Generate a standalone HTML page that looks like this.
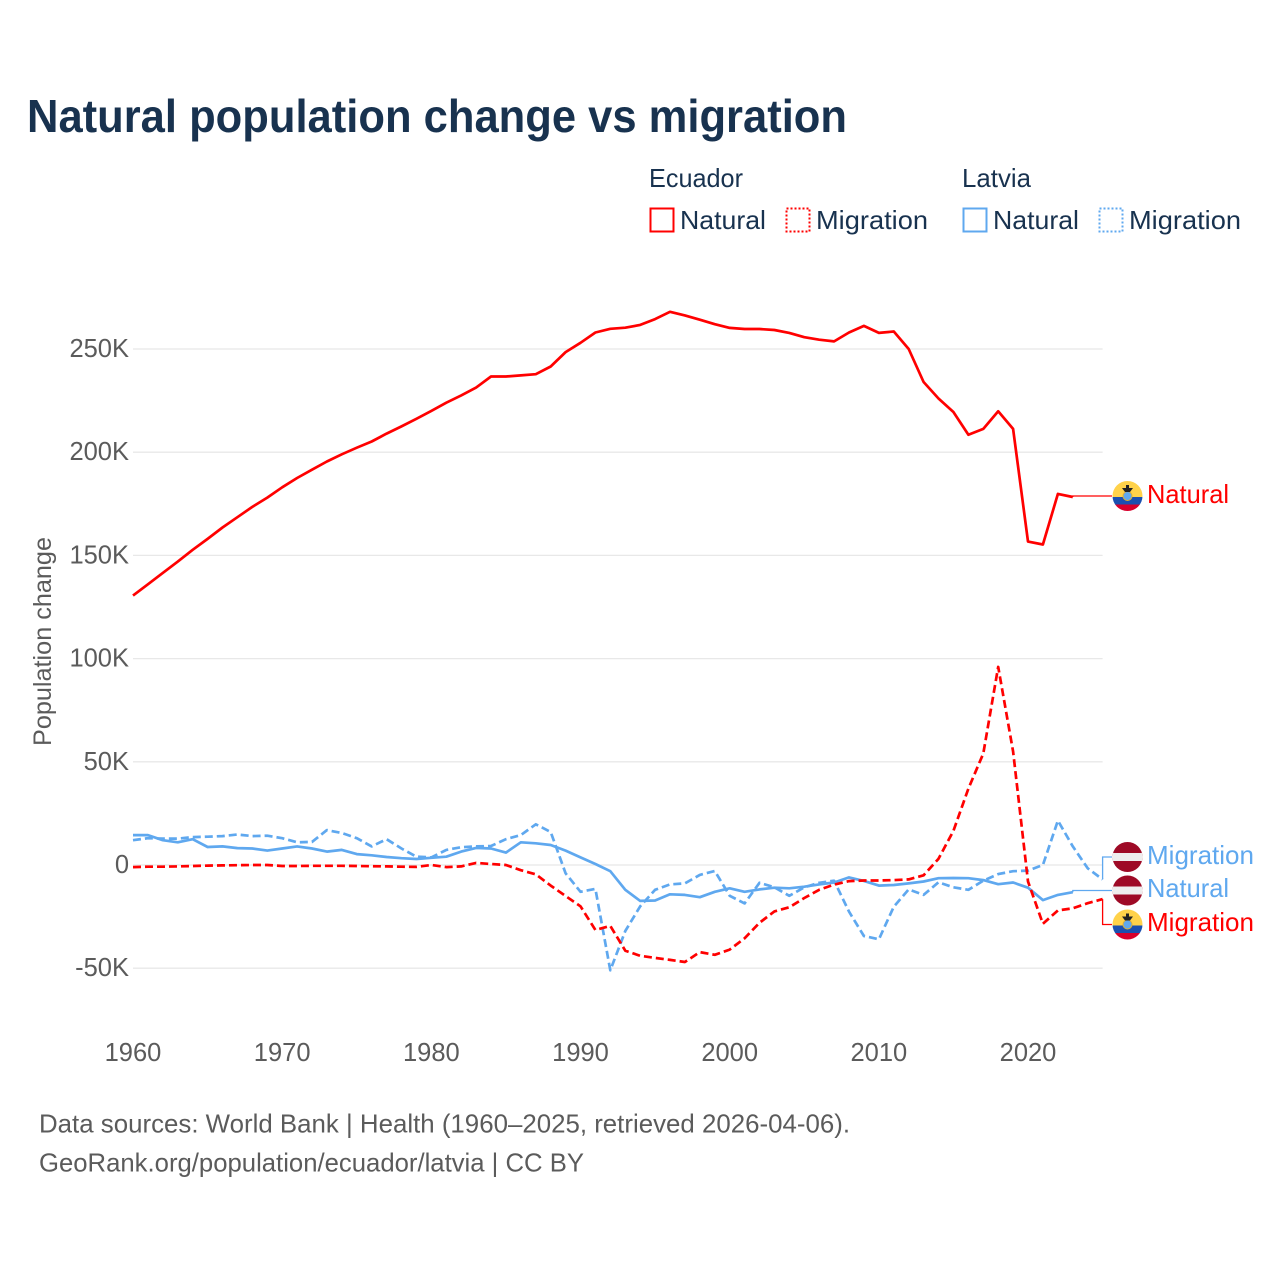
<!DOCTYPE html>
<html lang="en">
<head>
<meta charset="utf-8">
<title>Natural population change vs migration</title>
<style>
html,body{margin:0;padding:0;background:#fff;}
svg{display:block;font-family:"Liberation Sans",sans-serif;}
.legend{fill:#18324f;font-size:26px;}
.tick{fill:#5b5b5b;font-size:25.5px;}
.foot{fill:#5b5b5b;font-size:26px;}
.end{font-size:26px;}
</style>
</head>
<body>
<svg id="chart" xmlns="http://www.w3.org/2000/svg" width="1280" height="1280" viewBox="0 0 1280 1280">
  <rect width="1280" height="1280" fill="#fff"/>
  <text x="27" y="132" font-size="46" font-weight="700" fill="#18324f" textLength="820" lengthAdjust="spacingAndGlyphs">Natural population change vs migration</text>

  <g>
    <text class="legend" x="649" y="187" textLength="94" lengthAdjust="spacingAndGlyphs">Ecuador</text>
    <text class="legend" x="962" y="187" textLength="69" lengthAdjust="spacingAndGlyphs">Latvia</text>
    <rect x="650.5" y="208.5" width="23" height="23" fill="none" stroke="#ff0000" stroke-width="2"/>
    <text class="legend" x="680" y="229" textLength="86" lengthAdjust="spacingAndGlyphs">Natural</text>
    <rect x="786.5" y="208.5" width="23" height="23" fill="none" stroke="#ff0000" stroke-width="2" stroke-dasharray="2 2"/>
    <text class="legend" x="816" y="229" textLength="112" lengthAdjust="spacingAndGlyphs">Migration</text>
    <rect x="963.5" y="208.5" width="23" height="23" fill="none" stroke="#5fa8ef" stroke-width="2"/>
    <text class="legend" x="993" y="229" textLength="86" lengthAdjust="spacingAndGlyphs">Natural</text>
    <rect x="1099.5" y="208.5" width="23" height="23" fill="none" stroke="#5fa8ef" stroke-width="2" stroke-dasharray="2 2"/>
    <text class="legend" x="1129" y="229" textLength="112" lengthAdjust="spacingAndGlyphs">Migration</text>
  </g>

  <text transform="translate(51,746) rotate(-90)" x="0" y="0" font-size="25" fill="#5b5b5b" textLength="209" lengthAdjust="spacingAndGlyphs">Population change</text>

  <g id="grid"></g>
  <g id="yticks"></g>
  <g id="xticks"></g>
  <g id="series"></g>
  <g id="leaders"></g>

  <defs>
    <clipPath id="flag-clip"><circle cx="0" cy="0" r="15"/></clipPath>
  </defs>
  <g id="flag-ec-natural" transform="translate(1127.5,496)" clip-path="url(#flag-clip)">
    <rect x="-15" y="-15" width="30" height="16" fill="#ffd24a"/>
    <rect x="-15" y="1" width="30" height="7.5" fill="#1a50b0"/>
    <rect x="-15" y="8.5" width="30" height="6.5" fill="#d8002c"/>
    <circle cx="0" cy="0" r="4.5" fill="#5fa8ef" stroke="#e0b030" stroke-width="1"/>
    <path d="M-5.5 -8 L5.5 -8 L2.5 -4 L-2.5 -4 Z M-1.5 -11 L1.5 -11 L1.5 -7 L-1.5 -7 Z" fill="#222"/>
  </g>
  <g id="flag-lv-migration" transform="translate(1127.5,857)" clip-path="url(#flag-clip)">
    <rect x="-15" y="-15" width="30" height="30" fill="#9e0a26"/>
    <rect x="-15" y="-4" width="30" height="8" fill="#eeeeee"/>
  </g>
  <g id="flag-lv-natural" transform="translate(1127.5,890.5)" clip-path="url(#flag-clip)">
    <rect x="-15" y="-15" width="30" height="30" fill="#9e0a26"/>
    <rect x="-15" y="-4" width="30" height="8" fill="#eeeeee"/>
  </g>
  <g id="flag-ec-migration" transform="translate(1127.5,924.5)" clip-path="url(#flag-clip)">
    <rect x="-15" y="-15" width="30" height="16" fill="#ffd24a"/>
    <rect x="-15" y="1" width="30" height="7.5" fill="#1a50b0"/>
    <rect x="-15" y="8.5" width="30" height="6.5" fill="#d8002c"/>
    <circle cx="0" cy="0" r="4.5" fill="#5fa8ef" stroke="#e0b030" stroke-width="1"/>
    <path d="M-5.5 -8 L5.5 -8 L2.5 -4 L-2.5 -4 Z M-1.5 -11 L1.5 -11 L1.5 -7 L-1.5 -7 Z" fill="#222"/>
  </g>

  <text class="end" x="1147" y="503" fill="#ff0000" textLength="82" lengthAdjust="spacingAndGlyphs">Natural</text>
  <text class="end" x="1147" y="864" fill="#5fa8ef" textLength="107" lengthAdjust="spacingAndGlyphs">Migration</text>
  <text class="end" x="1147" y="897" fill="#5fa8ef" textLength="82" lengthAdjust="spacingAndGlyphs">Natural</text>
  <text class="end" x="1147" y="931" fill="#ff0000" textLength="107" lengthAdjust="spacingAndGlyphs">Migration</text>

  <text class="foot" x="39" y="1132.5" textLength="811" lengthAdjust="spacingAndGlyphs">Data sources: World Bank | Health (1960–2025, retrieved 2026-04-06).</text>
  <text class="foot" x="39" y="1171.5" textLength="545" lengthAdjust="spacingAndGlyphs">GeoRank.org/population/ecuador/latvia | CC BY</text>
</svg>
<script>
const startYear = 1960;
const yTickValues = [250, 200, 150, 100, 50, 0, -50];
const yTickLabels = ["250K", "200K", "150K", "100K", "50K", "0", "-50K"];
const xTickValues = [1960, 1970, 1980, 1990, 2000, 2010, 2020];
const xTickLabels = ["1960", "1970", "1980", "1990", "2000", "2010", "2020"];

const ecuadorNatural = [130.5,136,141.5,147,152.7,158,163.5,168.5,173.5,178,183,187.5,191.5,195.5,199,202.2,205.2,209,212.5,216.2,220,224,227.5,231.3,236.7,236.7,237.2,237.8,241.5,248.5,253,258,259.8,260.3,261.7,264.5,268,266.3,264.2,262,260.2,259.7,259.7,259.2,257.8,255.7,254.5,253.7,258,261.2,257.8,258.5,250,234,226,219.5,208.5,211.3,219.8,211.3,156.7,155.3,179.8,178.3];
const ecuadorMigration = [-1,-0.8,-0.8,-0.7,-0.5,-0.3,-0.2,-0.1,0,0,-0.5,-0.5,-0.4,-0.4,-0.4,-0.5,-0.6,-0.7,-0.8,-0.9,0,-1,-0.7,1,0.5,0,-2.5,-4.5,-10,-15,-20,-31.5,-29.5,-41.5,-44,-45,-46,-47,-42.2,-43.5,-41,-35.5,-28,-22.5,-20.5,-16,-12,-9.5,-7.8,-7.5,-7.5,-7.3,-7,-5,3,16.5,37,54,96,55,-8,-28.5,-22,-21,-18.5,-16.5];
const latviaNatural = [14.5,14.5,12,11,12.5,8.7,9,8.2,8,7,8,9,8,6.5,7.3,5.3,4.7,3.9,3.3,2.9,3.5,4,6.5,8.3,8,6,11,10.5,9.7,7,3.7,0.5,-3,-12,-17.4,-17.2,-14.2,-14.5,-15.6,-13,-11.3,-13,-11.8,-11,-11.3,-10.5,-9.4,-8.5,-6,-7.7,-10,-9.7,-8.9,-8,-6.4,-6.3,-6.4,-7.3,-9.3,-8.5,-11,-17,-14.5,-13.2];
const latviaMigration = [12,13,12.8,12.8,13.5,13.7,14,14.8,14,14.2,13,11,11.2,16.9,15.5,13,9,12.5,8,4,3.7,7.3,8.6,9,9.2,12.5,14.5,19.7,16,-4,-13,-11.6,-51,-32,-20,-12,-9.4,-8.9,-4.8,-2.9,-14.9,-18.6,-8.6,-10.8,-14.9,-10.8,-8.6,-7.6,-22.6,-34.4,-36,-20.2,-11.8,-14.5,-8.4,-10.8,-12,-7.6,-4.4,-3,-2.7,0,21.5,9,-1.6,-7];

const NS = "http://www.w3.org/2000/svg";
function xScale(year) { return 133 + (year - 1960) * 14.917; }
function yScale(k) { return 865 - k * 2.064; }
function linePath(values) {
  return values.map(function (v, i) {
    return (i ? "L" : "M") + xScale(startYear + i).toFixed(1) + " " + yScale(v).toFixed(1);
  }).join(" ");
}

const grid = document.getElementById("grid");
const yticks = document.getElementById("yticks");
const xticks = document.getElementById("xticks");
const seriesGroup = document.getElementById("series");
const leaders = document.getElementById("leaders");

yTickValues.forEach(function (v, i) {
  const ln = document.createElementNS(NS, "line");
  
  
  ln.setAttribute("x1", xScale(1960));
  ln.setAttribute("x2", xScale(2025));
  ln.setAttribute("y1", yScale(v));
  ln.setAttribute("y2", yScale(v));
  ln.setAttribute("stroke", "#e8e8e8");
  ln.setAttribute("stroke-width", "1.3");
  grid.appendChild(ln);
  const t = document.createElementNS(NS, "text");
  
  
  t.setAttribute("class", "tick");
  t.setAttribute("x", 129);
  t.setAttribute("y", yScale(v) + 8);
  t.setAttribute("text-anchor", "end");
  t.textContent = yTickLabels[i];
  yticks.appendChild(t);
});

xTickValues.forEach(function (v, i) {
  const t = document.createElementNS(NS, "text");
  
  
  t.setAttribute("class", "tick");
  t.setAttribute("x", xScale(v));
  t.setAttribute("y", 1061);
  t.setAttribute("text-anchor", "middle");
  t.textContent = xTickLabels[i];
  xticks.appendChild(t);
});

function drawSeries(values, color, dashed, name) {
  const p = document.createElementNS(NS, "path");
  
  
  p.setAttribute("d", linePath(values));
  p.setAttribute("fill", "none");
  p.setAttribute("stroke", color);
  p.setAttribute("stroke-width", "2.7");
  p.setAttribute("stroke-linejoin", "round");
  if (dashed) p.setAttribute("stroke-dasharray", "8 4");
  seriesGroup.appendChild(p);
}
drawSeries(latviaMigration, "#5fa8ef", true, "line-latvia-migration");
drawSeries(latviaNatural, "#5fa8ef", false, "line-latvia-natural");
drawSeries(ecuadorMigration, "#ff0000", true, "line-ecuador-migration");
drawSeries(ecuadorNatural, "#ff0000", false, "line-ecuador-natural");

function drawLeader(values, labelY, color, name) {
  const lastIndex = values.length - 1;
  const x0 = xScale(startYear + lastIndex);
  const y0 = yScale(values[lastIndex]);
  const p = document.createElementNS(NS, "path");
  
  
  p.setAttribute("d", "M" + x0.toFixed(1) + " " + y0.toFixed(1) + " L" + x0.toFixed(1) + " " + labelY + " L1112 " + labelY);
  p.setAttribute("fill", "none");
  p.setAttribute("stroke", color);
  p.setAttribute("stroke-width", "1.3");
  leaders.appendChild(p);
}
drawLeader(ecuadorNatural, 496, "#ff0000", "connector-ecuador-natural");
drawLeader(latviaMigration, 857, "#5fa8ef", "connector-latvia-migration");
drawLeader(latviaNatural, 890.5, "#5fa8ef", "connector-latvia-natural");
drawLeader(ecuadorMigration, 924.5, "#ff0000", "connector-ecuador-migration");
</script>
</body>
</html>
